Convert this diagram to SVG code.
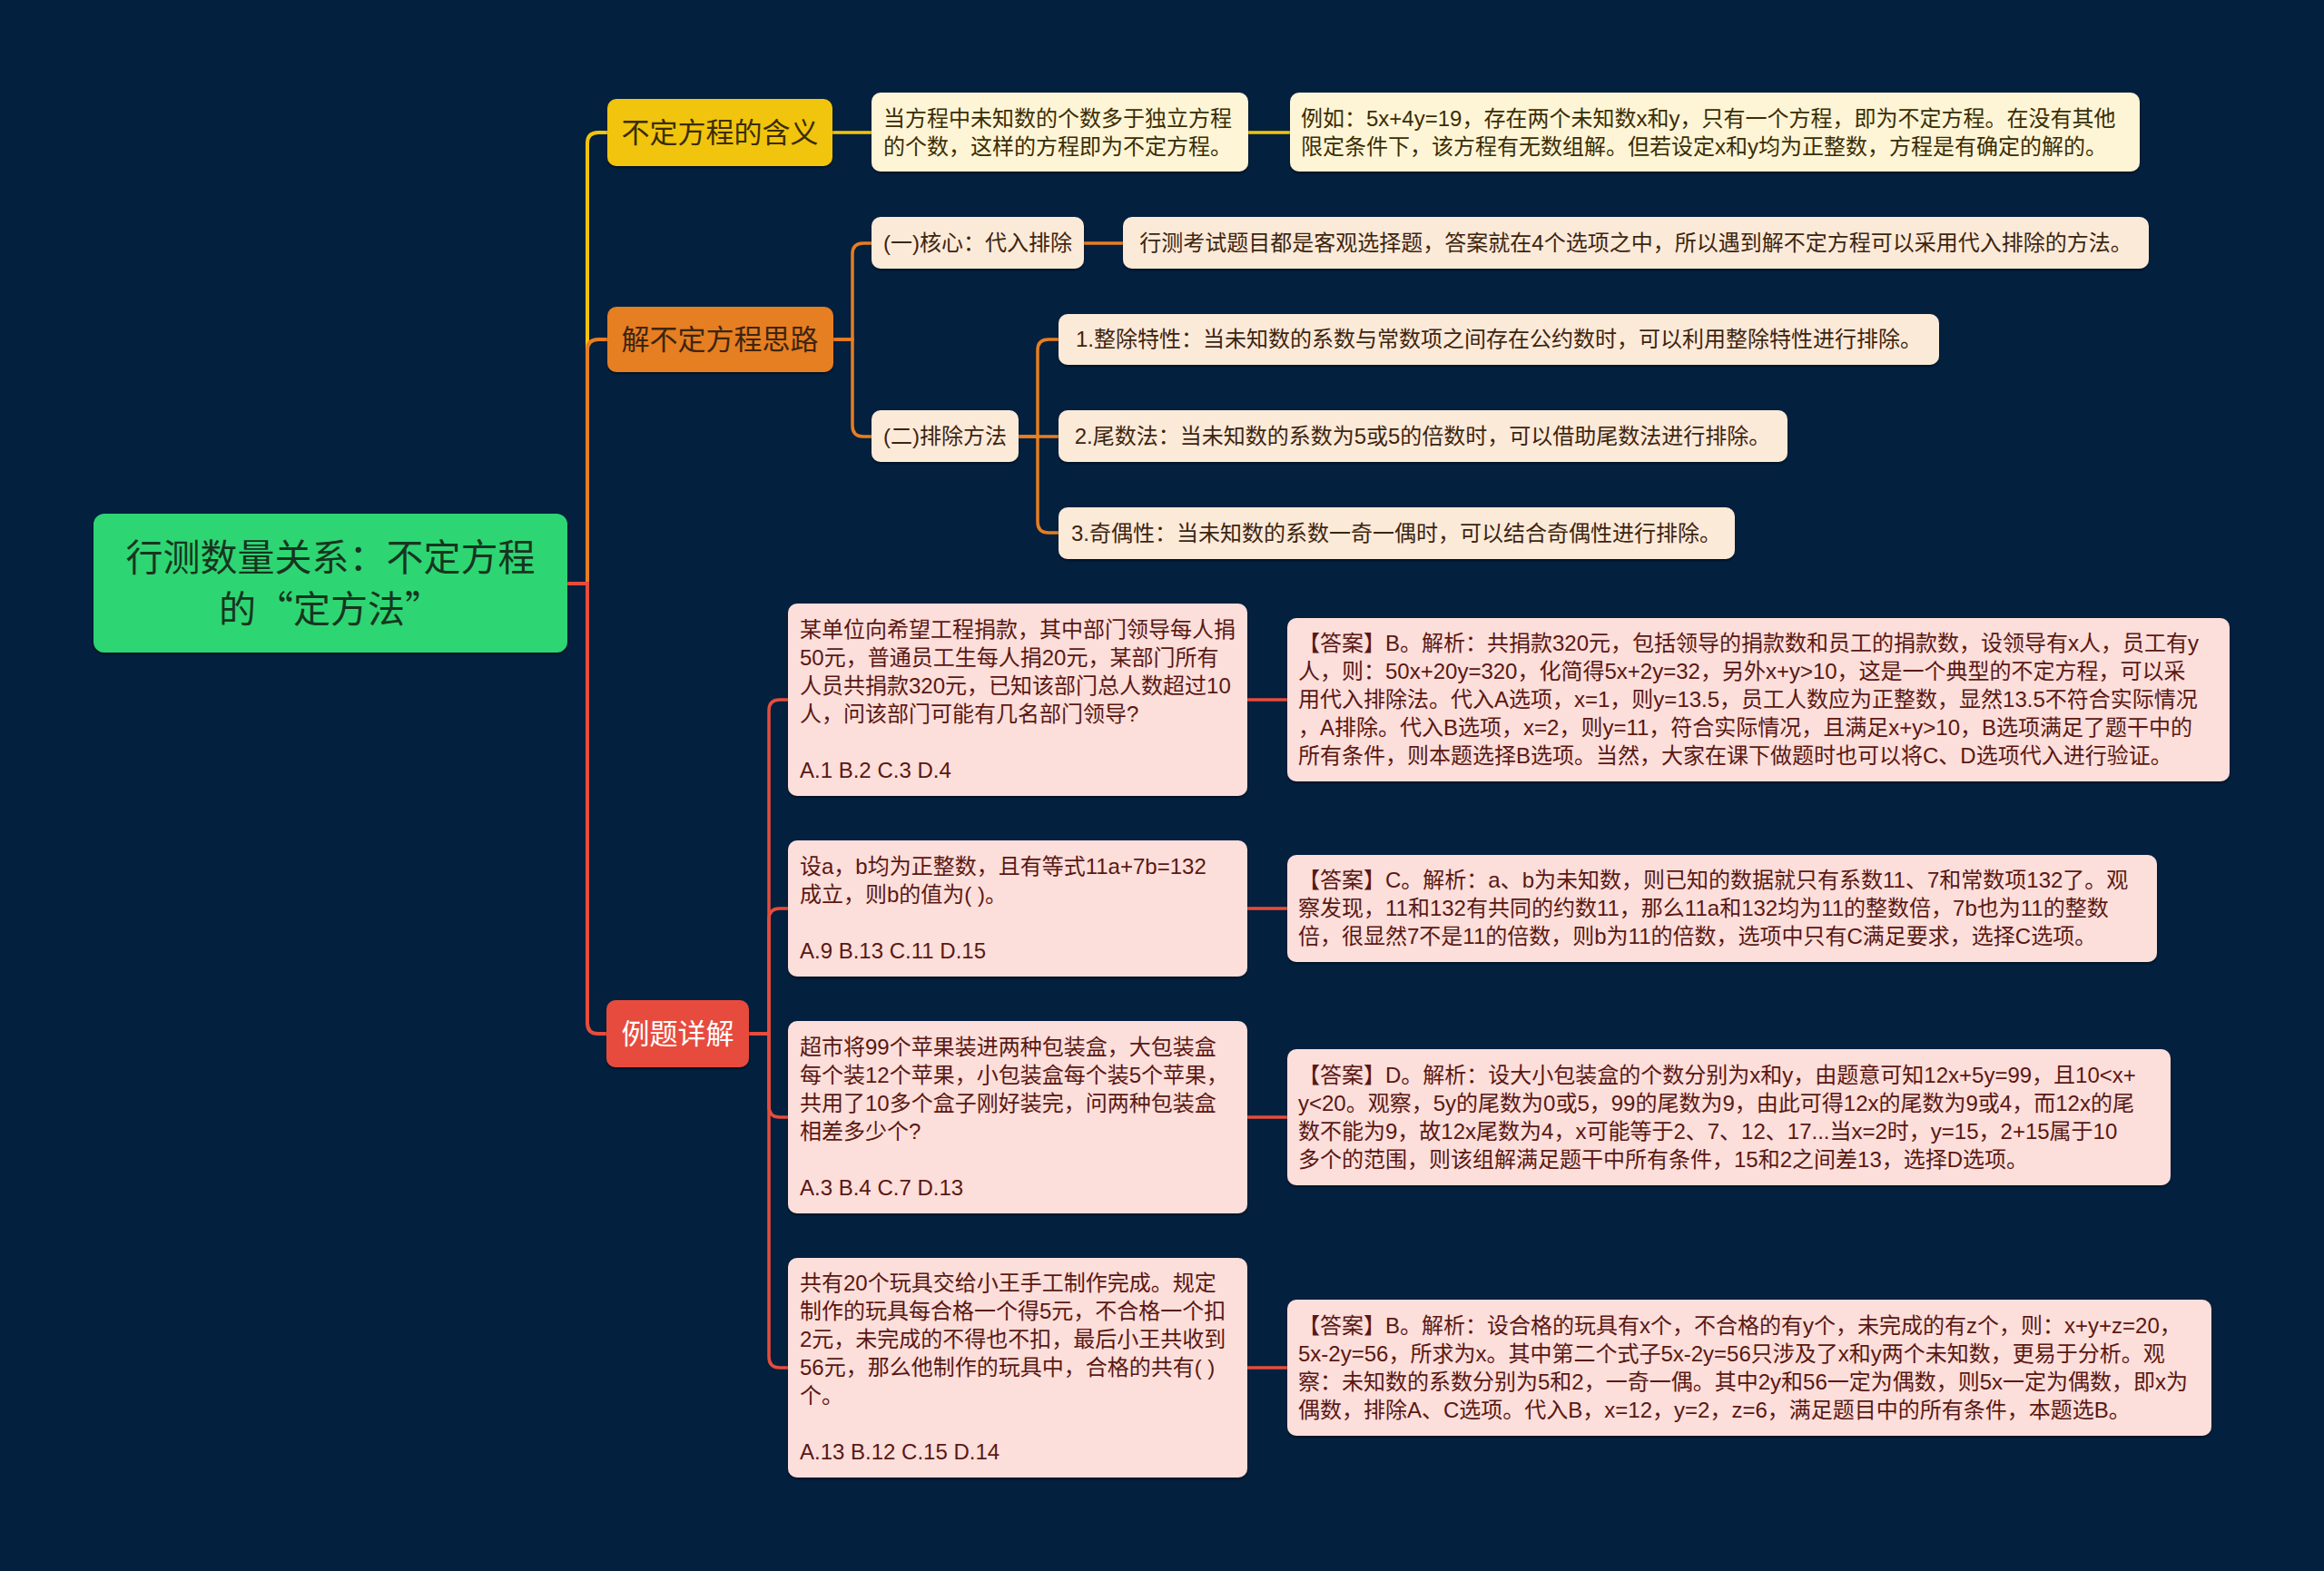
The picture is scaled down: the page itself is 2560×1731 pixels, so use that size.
<svg xmlns="http://www.w3.org/2000/svg" width="2560" height="1731" viewBox="0 0 2560 1731">
<defs>
<filter id="sh" x="-5%" y="-10%" width="110%" height="130%"><feDropShadow dx="0" dy="2" stdDeviation="1.2" flood-color="#000" flood-opacity="0.45"/></filter>
<style>
text{font-family:"Liberation Sans","Noto Sans CJK SC",sans-serif;}
.t{font-size:24px;}
.big{font-size:31px;text-anchor:middle;}
.root{font-size:41px;text-anchor:middle;fill:#17351f;}
.cjk{font-family:"Noto Sans CJK SC",sans-serif;}
.c{text-anchor:middle;}
.ylw{fill:#F1C40F;}
.org{fill:#E67E22;}
.red{fill:#E74C3C;}
.yb{fill:#FEF5D6;}
.ob{fill:#FCEAD9;}
.rb{fill:#FCDEDB;}
.yt{fill:#3a2d04;}
.ot{fill:#3d250f;}
.rt{fill:#5a1812;}
.ly{stroke:#F1C40F;fill:none;stroke-width:4;}
.lo{stroke:#E67E22;fill:none;stroke-width:4;}
.lr{stroke:#E74C3C;fill:none;stroke-width:4;}
.s3{stroke-width:3.5;}
</style>
</defs>
<rect width="2560" height="1731" fill="#03203E"/>

<g id="connectors">
<path class="ly" d="M625 643 H647 V158 Q647 146 659 146 H669"/>
<path class="lo" d="M625 643 H647 V386 Q647 374 659 374 H669"/>
<path class="lr" d="M625 643 H647 V1127 Q647 1139 659 1139 H668"/>
<path class="ly s3" d="M917 146 H960"/>
<path class="ly s3" d="M1375 146 H1421"/>
<path class="lo s3" d="M918 374 H939 V280 Q939 268 951 268 H960"/>
<path class="lo s3" d="M918 374 H939 V469 Q939 481 951 481 H960"/>
<path class="lo s3" d="M1194 268 H1237"/>
<path class="lo s3" d="M1122 481 H1143 V386 Q1143 374 1155 374 H1166"/>
<path class="lo s3" d="M1122 481 H1166"/>
<path class="lo s3" d="M1122 481 H1143 V575 Q1143 587 1155 587 H1166"/>
<path class="lr s3" d="M825 1139 H847 V783 Q847 771 859 771 H868"/>
<path class="lr s3" d="M825 1139 H847 V1013 Q847 1001 859 1001 H868"/>
<path class="lr s3" d="M825 1139 H847 V1219 Q847 1231 859 1231 H868"/>
<path class="lr s3" d="M825 1139 H847 V1495 Q847 1507 859 1507 H868"/>
<path class="lr s3" d="M1374 771 H1418"/>
<path class="lr s3" d="M1374 1001 H1418"/>
<path class="lr s3" d="M1374 1231 H1418"/>
<path class="lr s3" d="M1374 1507 H1418"/>
</g>

<g id="root">
<rect x="103" y="566" width="522" height="153" rx="12" fill="#2ED573" filter="url(#sh)"/>
<text class="root" x="364" y="629">行测数量关系：不定方程</text>
<text class="root cjk" x="364" y="686">的“定方法”</text>
</g>

<g id="n-meaning">
<rect class="ylw" x="669" y="109" width="248" height="74" rx="10" filter="url(#sh)"/>
<text class="big yt" x="793" y="157">不定方程的含义</text>
</g>
<g id="n-desc">
<rect class="yb" x="960" y="102" width="415" height="87" rx="10" filter="url(#sh)"/>
<text class="t yt" x="973" y="138.5">当方程中未知数的个数多于独立方程<tspan x="973" dy="31">的个数，这样的方程即为不定方程。</tspan></text>
</g>
<g id="n-example">
<rect class="yb" x="1421" y="102" width="936" height="87" rx="10" filter="url(#sh)"/>
<text class="t yt" x="1433" y="138.5">例如：5x+4y=19，存在两个未知数x和y，只有一个方程，即为不定方程。在没有其他<tspan x="1433" dy="31">限定条件下，该方程有无数组解。但若设定x和y均为正整数，方程是有确定的解的。</tspan></text>
</g>

<g id="n-solve">
<rect class="org" x="669" y="338" width="249" height="72" rx="10" filter="url(#sh)"/>
<text class="big ot" x="793" y="385">解不定方程思路</text>
</g>
<g id="n-core">
<rect class="ob" x="960" y="239" width="234" height="57" rx="10" filter="url(#sh)"/>
<text class="t ot c" x="1077" y="276">(一)核心：代入排除</text>
</g>
<g id="n-core-text">
<rect class="ob" x="1237" y="239" width="1130" height="57" rx="10" filter="url(#sh)"/>
<text class="t ot c" x="1802" y="276">行测考试题目都是客观选择题，答案就在4个选项之中，所以遇到解不定方程可以采用代入排除的方法。</text>
</g>
<g id="n-method">
<rect class="ob" x="960" y="452" width="162" height="57" rx="10" filter="url(#sh)"/>
<text class="t ot c" x="1041" y="489">(二)排除方法</text>
</g>
<g id="n-item1">
<rect class="ob" x="1166" y="346" width="970" height="56" rx="10" filter="url(#sh)"/>
<text class="t ot c" x="1651" y="382">1.整除特性：当未知数的系数与常数项之间存在公约数时，可以利用整除特性进行排除。</text>
</g>
<g id="n-item2">
<rect class="ob" x="1166" y="452" width="803" height="57" rx="10" filter="url(#sh)"/>
<text class="t ot c" x="1567" y="489">2.尾数法：当未知数的系数为5或5的倍数时，可以借助尾数法进行排除。</text>
</g>
<g id="n-item3">
<rect class="ob" x="1166" y="559" width="745" height="57" rx="10" filter="url(#sh)"/>
<text class="t ot c" x="1538" y="596">3.奇偶性：当未知数的系数一奇一偶时，可以结合奇偶性进行排除。</text>
</g>

<g id="n-examples">
<rect class="red" x="668" y="1102" width="157" height="74" rx="10" filter="url(#sh)"/>
<text class="big" x="746.5" y="1150" fill="#ffffff">例题详解</text>
</g>

<g id="n-q1">
<rect class="rb" x="868" y="665" width="506" height="212" rx="10" filter="url(#sh)"/>
<text class="t rt" x="881" y="701.5">某单位向希望工程捐款，其中部门领导每人捐<tspan x="881" dy="31">50元，普通员工生每人捐20元，某部门所有</tspan><tspan x="881" dy="31">人员共捐款320元，已知该部门总人数超过10</tspan><tspan x="881" dy="31">人，问该部门可能有几名部门领导?</tspan><tspan x="881" dy="62">A.1 B.2 C.3 D.4</tspan></text>
</g>
<g id="n-a1">
<rect class="rb" x="1418" y="681" width="1038" height="180" rx="10" filter="url(#sh)"/>
<text class="t rt" x="1430" y="717">【答案】B。解析：共捐款320元，包括领导的捐款数和员工的捐款数，设领导有x人，员工有y<tspan x="1430" dy="31">人，则：50x+20y=320，化简得5x+2y=32，另外x+y&gt;10，这是一个典型的不定方程，可以采</tspan><tspan x="1430" dy="31">用代入排除法。代入A选项，x=1，则y=13.5，员工人数应为正整数，显然13.5不符合实际情况</tspan><tspan x="1430" dy="31">，A排除。代入B选项，x=2，则y=11，符合实际情况，且满足x+y&gt;10，B选项满足了题干中的</tspan><tspan x="1430" dy="31">所有条件，则本题选择B选项。当然，大家在课下做题时也可以将C、D选项代入进行验证。</tspan></text>
</g>

<g id="n-q2">
<rect class="rb" x="868" y="926" width="506" height="150" rx="10" filter="url(#sh)"/>
<text class="t rt" x="881" y="962.5">设a，b均为正整数，且有等式11a+7b=132<tspan x="881" dy="31">成立，则b的值为( )。</tspan><tspan x="881" dy="62">A.9 B.13 C.11 D.15</tspan></text>
</g>
<g id="n-a2">
<rect class="rb" x="1418" y="942" width="958" height="118" rx="10" filter="url(#sh)"/>
<text class="t rt" x="1430" y="978">【答案】C。解析：a、b为未知数，则已知的数据就只有系数11、7和常数项132了。观<tspan x="1430" dy="31">察发现，11和132有共同的约数11，那么11a和132均为11的整数倍，7b也为11的整数</tspan><tspan x="1430" dy="31">倍，很显然7不是11的倍数，则b为11的倍数，选项中只有C满足要求，选择C选项。</tspan></text>
</g>

<g id="n-q3">
<rect class="rb" x="868" y="1125" width="506" height="212" rx="10" filter="url(#sh)"/>
<text class="t rt" x="881" y="1161.5">超市将99个苹果装进两种包装盒，大包装盒<tspan x="881" dy="31">每个装12个苹果，小包装盒每个装5个苹果，</tspan><tspan x="881" dy="31">共用了10多个盒子刚好装完，问两种包装盒</tspan><tspan x="881" dy="31">相差多少个?</tspan><tspan x="881" dy="62">A.3 B.4 C.7 D.13</tspan></text>
</g>
<g id="n-a3">
<rect class="rb" x="1418" y="1156" width="973" height="150" rx="10" filter="url(#sh)"/>
<text class="t rt" x="1430" y="1192.5">【答案】D。解析：设大小包装盒的个数分别为x和y，由题意可知12x+5y=99，且10&lt;x+<tspan x="1430" dy="31">y&lt;20。观察，5y的尾数为0或5，99的尾数为9，由此可得12x的尾数为9或4，而12x的尾</tspan><tspan x="1430" dy="31">数不能为9，故12x尾数为4，x可能等于2、7、12、17...当x=2时，y=15，2+15属于10</tspan><tspan x="1430" dy="31">多个的范围，则该组解满足题干中所有条件，15和2之间差13，选择D选项。</tspan></text>
</g>

<g id="n-q4">
<rect class="rb" x="868" y="1386" width="506" height="242" rx="10" filter="url(#sh)"/>
<text class="t rt" x="881" y="1422">共有20个玩具交给小王手工制作完成。规定<tspan x="881" dy="31">制作的玩具每合格一个得5元，不合格一个扣</tspan><tspan x="881" dy="31">2元，未完成的不得也不扣，最后小王共收到</tspan><tspan x="881" dy="31">56元，那么他制作的玩具中，合格的共有( )</tspan><tspan x="881" dy="31">个。</tspan><tspan x="881" dy="62">A.13 B.12 C.15 D.14</tspan></text>
</g>
<g id="n-a4">
<rect class="rb" x="1418" y="1432" width="1018" height="150" rx="10" filter="url(#sh)"/>
<text class="t rt" x="1430" y="1468.5">【答案】B。解析：设合格的玩具有x个，不合格的有y个，未完成的有z个，则：x+y+z=20，<tspan x="1430" dy="31">5x-2y=56，所求为x。其中第二个式子5x-2y=56只涉及了x和y两个未知数，更易于分析。观</tspan><tspan x="1430" dy="31">察：未知数的系数分别为5和2，一奇一偶。其中2y和56一定为偶数，则5x一定为偶数，即x为</tspan><tspan x="1430" dy="31">偶数，排除A、C选项。代入B，x=12，y=2，z=6，满足题目中的所有条件，本题选B。</tspan></text>
</g>
</svg>
